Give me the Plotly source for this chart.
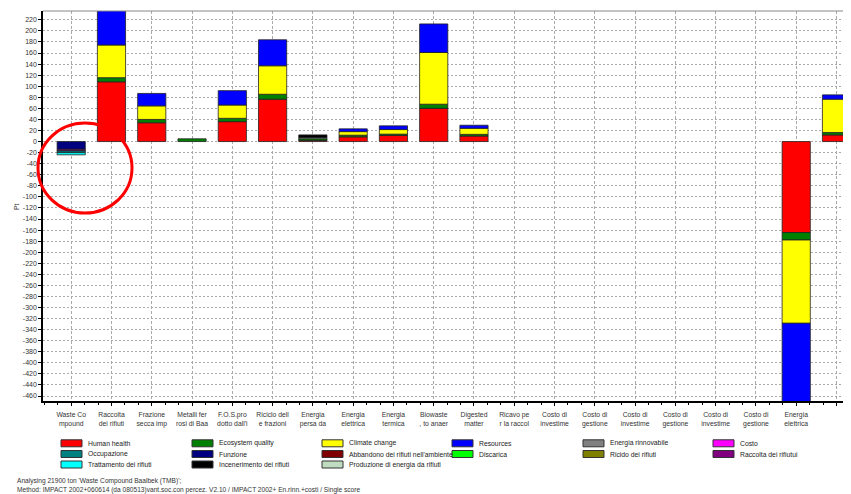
import plotly.graph_objects as go

# ---------------- data ----------------
CATEGORIES = [
    "Waste Co<br>mpound", "Raccolta<br>dei rifiuti", "Frazione<br>secca imp",
    "Metalli fer<br>rosi di Baa", "F.O.S.pro<br>dotto dall'i", "Riciclo dell<br>e frazioni",
    "Energia<br>persa da", "Energia<br>elettrica", "Energia<br>termica",
    "Biowaste<br>, to anaer", "Digested<br>matter", "Ricavo pe<br>r la raccol",
    "Costo di<br>investime", "Costo di<br>gestione", "Costo di<br>investime",
    "Costo di<br>gestione", "Costo di<br>investime", "Costo di<br>gestione",
    "Energia<br>elettrica", "Disposal<br>, municipa",
]

HUMAN_HEALTH      = [0, 108, 34, 0, 36, 76.5, 2, 8.5, 11, 60, 10, 0, 0, 0, 0, 0, 0, 0, -164.5, 12]
ECOSYSTEM_QUALITY = [0, 7.5, 6, 5, 6, 9, 3, 3, 2.4, 7.5, 3, 0, 0, 0, 0, 0, 0, 0, -13.5, 4.3]
CLIMATE_CHANGE    = [0, 59, 24.5, 0, 24, 51.5, 0, 6.5, 8.3, 93.5, 11, 0, 0, 0, 0, 0, 0, 0, -150.5, 60.3]
RESOURCES         = [0, 70, 22.5, 0, 26, 47, 0, 5, 6.7, 51.6, 5.5, 0, 0, 0, 0, 0, 0, 0, -146, 7.8]
FUNZIONE          = [-14, 0, 0, 0, 0, 0, 0, 0, 0, 0, 0, 0, 0, 0, 0, 0, 0, 0, 0, 0]
RACCOLTA_RIFIUTUI = [-3, 0, 0, 0, 0, 0, 0, 0, 0, 0, 0, 0, 0, 0, 0, 0, 0, 0, 0, 0]
OCCUPAZIONE       = [-3, 0, 0, 0, 0, 0, 0, 0, 0, 0, 0, 0, 0, 0, 0, 0, 0, 0, 0, 0]
TRATTAMENTO       = [-4, 0, 0, 0, 0, 0, 0, 0, 0, 0, 0, 0, 0, 0, 0, 0, 0, 0, 0, 0]
PRODUZIONE        = [0, 0, 0, 0, 0, 0, 2, 0, 0, 0, 0, 0, 0, 0, 0, 0, 0, 0, 0, 0]
INCENERIMENTO     = [0, 0, 0, 0, 0, 0, 5, 0, 0, 0, 0, 0, 0, 0, 0, 0, 0, 0, 0, 0]
ABBANDONO         = [0] * 20
DISCARICA         = [0] * 20
ENERGIA_RINNOV    = [0] * 20
RICICLO           = [0] * 20
COSTO             = [0] * 20

Y_TICKS = list(range(-460, 240, 20))

CAPTION_1 = "Analysing 21900 ton 'Waste Compound Baalbek (TMB)';"
CAPTION_2 = ("Method: IMPACT 2002+060614 (da 080513)vant.soc.con percez. V2.10 / "
             "IMPACT 2002+ En.rinn.+costi / Single score")

# (name, colour, values) in stacking order
SERIES = [
    ("Human health", "#FF0000", HUMAN_HEALTH),
    ("Ecosystem quality", "#008000", ECOSYSTEM_QUALITY),
    ("Climate change", "#FFFF00", CLIMATE_CHANGE),
    ("Resources", "#0000FF", RESOURCES),
    ("Funzione", "#000080", FUNZIONE),
    ("Raccolta dei rifiutui", "#800080", RACCOLTA_RIFIUTUI),
    ("Occupazione", "#008080", OCCUPAZIONE),
    ("Trattamento dei rifiuti", "#00FFFF", TRATTAMENTO),
    ("Produzione di energia da rifiuti", "#C0DCC0", PRODUZIONE),
    ("Incenerimento dei rifiuti", "#000000", INCENERIMENTO),
    ("Abbandono dei rifiuti nell'ambiente", "#800000", ABBANDONO),
    ("Discarica", "#00FF00", DISCARICA),
    ("Energia rinnovabile", "#808080", ENERGIA_RINNOV),
    ("Ricido dei rifiuti", "#808000", RICICLO),
    ("Costo", "#FF00FF", COSTO),
]

LEGEND_ROWS = [
    ["Human health", "Ecosystem quality", "Climate change", "Resources", "Energia rinnovabile", "Costo"],
    ["Occupazione", "Funzione", "Abbandono dei rifiuti nell'ambiente", "Discarica", "Ricido dei rifiuti", "Raccolta dei rifiutui"],
    ["Trattamento dei rifiuti", "Incenerimento dei rifiuti", "Produzione di energia da rifiuti"],
]

# ---------------- layout geometry (screen pixels) ----------------
SCREEN_W, SCREEN_H = 851, 494
OFF = 8                       # default page body margin
W, H = SCREEN_W - OFF, SCREEN_H - OFF
PL, PR, PT, PB = 43, 851, 11, 401
FONT = "Liberation Sans"


def fx(p):
    return (p - OFF) / W


def fy(p):
    return 1 - (p - OFF) / H


xs = list(range(len(CATEGORIES)))
fig = go.Figure()
for name, color, vals in SERIES:
    fig.add_trace(go.Bar(
        x=xs, y=[v if v != 0 else None for v in vals], name=name, width=0.7,
        marker=dict(color=color, line=dict(color="#222222", width=0.8)),
        showlegend=False,
    ))

shapes = []
annotations = []

# top border of plot area
shapes.append(dict(type="line", xref="paper", yref="paper",
                   x0=fx(PL), x1=1, y0=fy(PT), y1=fy(PT),
                   line=dict(color="#888888", width=1)))

# red circle highlight
shapes.append(dict(type="circle", xref="paper", yref="paper",
                   x0=fx(38), x1=fx(132), y0=fy(213), y1=fy(123),
                   line=dict(color="#FF0000", width=3), layer="above"))

# manual legend
color_of = {n: c for n, c, _ in SERIES}
col_left = [61, 192, 322, 452, 583, 713]
row_mid = [443.3, 454, 464.5]
for r, row in enumerate(LEGEND_ROWS):
    for c, name in enumerate(row):
        x0 = col_left[c]
        ym = row_mid[r]
        shapes.append(dict(type="rect", xref="paper", yref="paper",
                           x0=fx(x0), x1=fx(x0 + 21), y0=fy(ym + 3.5), y1=fy(ym - 3.5),
                           fillcolor=color_of[name], line=dict(color="#333333", width=1)))
        annotations.append(dict(xref="paper", yref="paper", x=fx(x0 + 25), y=fy(ym),
                                xanchor="left", yanchor="middle", showarrow=False,
                                text=name, font=dict(family=FONT, size=6.8, color="#222222")))

# y-axis title
annotations.append(dict(xref="paper", yref="paper", x=fx(17), y=fy(207),
                        xanchor="center", yanchor="middle", showarrow=False,
                        text="Pt", textangle=-90,
                        font=dict(family=FONT, size=6.8, color="#333333")))

# captions
annotations.append(dict(xref="paper", yref="paper", x=fx(15), y=fy(481),
                        xanchor="left", yanchor="middle", showarrow=False,
                        text=CAPTION_1, font=dict(family=FONT, size=6.6, color="#333333")))
annotations.append(dict(xref="paper", yref="paper", x=fx(15), y=fy(490),
                        xanchor="left", yanchor="middle", showarrow=False,
                        text=CAPTION_2, font=dict(family=FONT, size=6.6, color="#333333")))

fig.update_layout(
    width=W, height=H,
    margin=dict(l=0, r=0, t=0, b=0),
    paper_bgcolor="white", plot_bgcolor="white",
    barmode="relative",
    showlegend=False,
    font=dict(family=FONT, size=7, color="#333333"),
    shapes=shapes,
    annotations=annotations,
    xaxis=dict(
        domain=[fx(PL), 1], range=[-0.7, 19.36],
        tickmode="array", tickvals=xs, ticktext=CATEGORIES,
        tickfont=dict(family=FONT, size=6.8, color="#333333"),
        ticklabelstandoff=3,
        showline=True, linecolor="#000000", linewidth=1.5,
        ticks="outside", ticklen=3, tickcolor="#000000",
        minor=dict(tick0=0, dtick=1 / 3, ticks="outside", ticklen=2, tickcolor="#000000", showgrid=False),
        showgrid=True, gridcolor="#AAAAAA", griddash="3px,2px", gridwidth=1,
        zeroline=False, automargin=False, fixedrange=True,
    ),
    yaxis=dict(
        domain=[fy(PB), fy(PT)], range=[-469, 236],
        tickmode="array", tickvals=Y_TICKS, ticktext=[str(v) for v in Y_TICKS],
        tickfont=dict(family=FONT, size=7, color="#333333"),
        showline=True, linecolor="#000000", linewidth=1.5,
        ticks="outside", ticklen=3, tickcolor="#000000",
        showgrid=True, gridcolor="#AAAAAA", griddash="2px,2px", gridwidth=1,
        zeroline=False, automargin=False, fixedrange=True,
    ),
)

fig.write_html("out.html")
